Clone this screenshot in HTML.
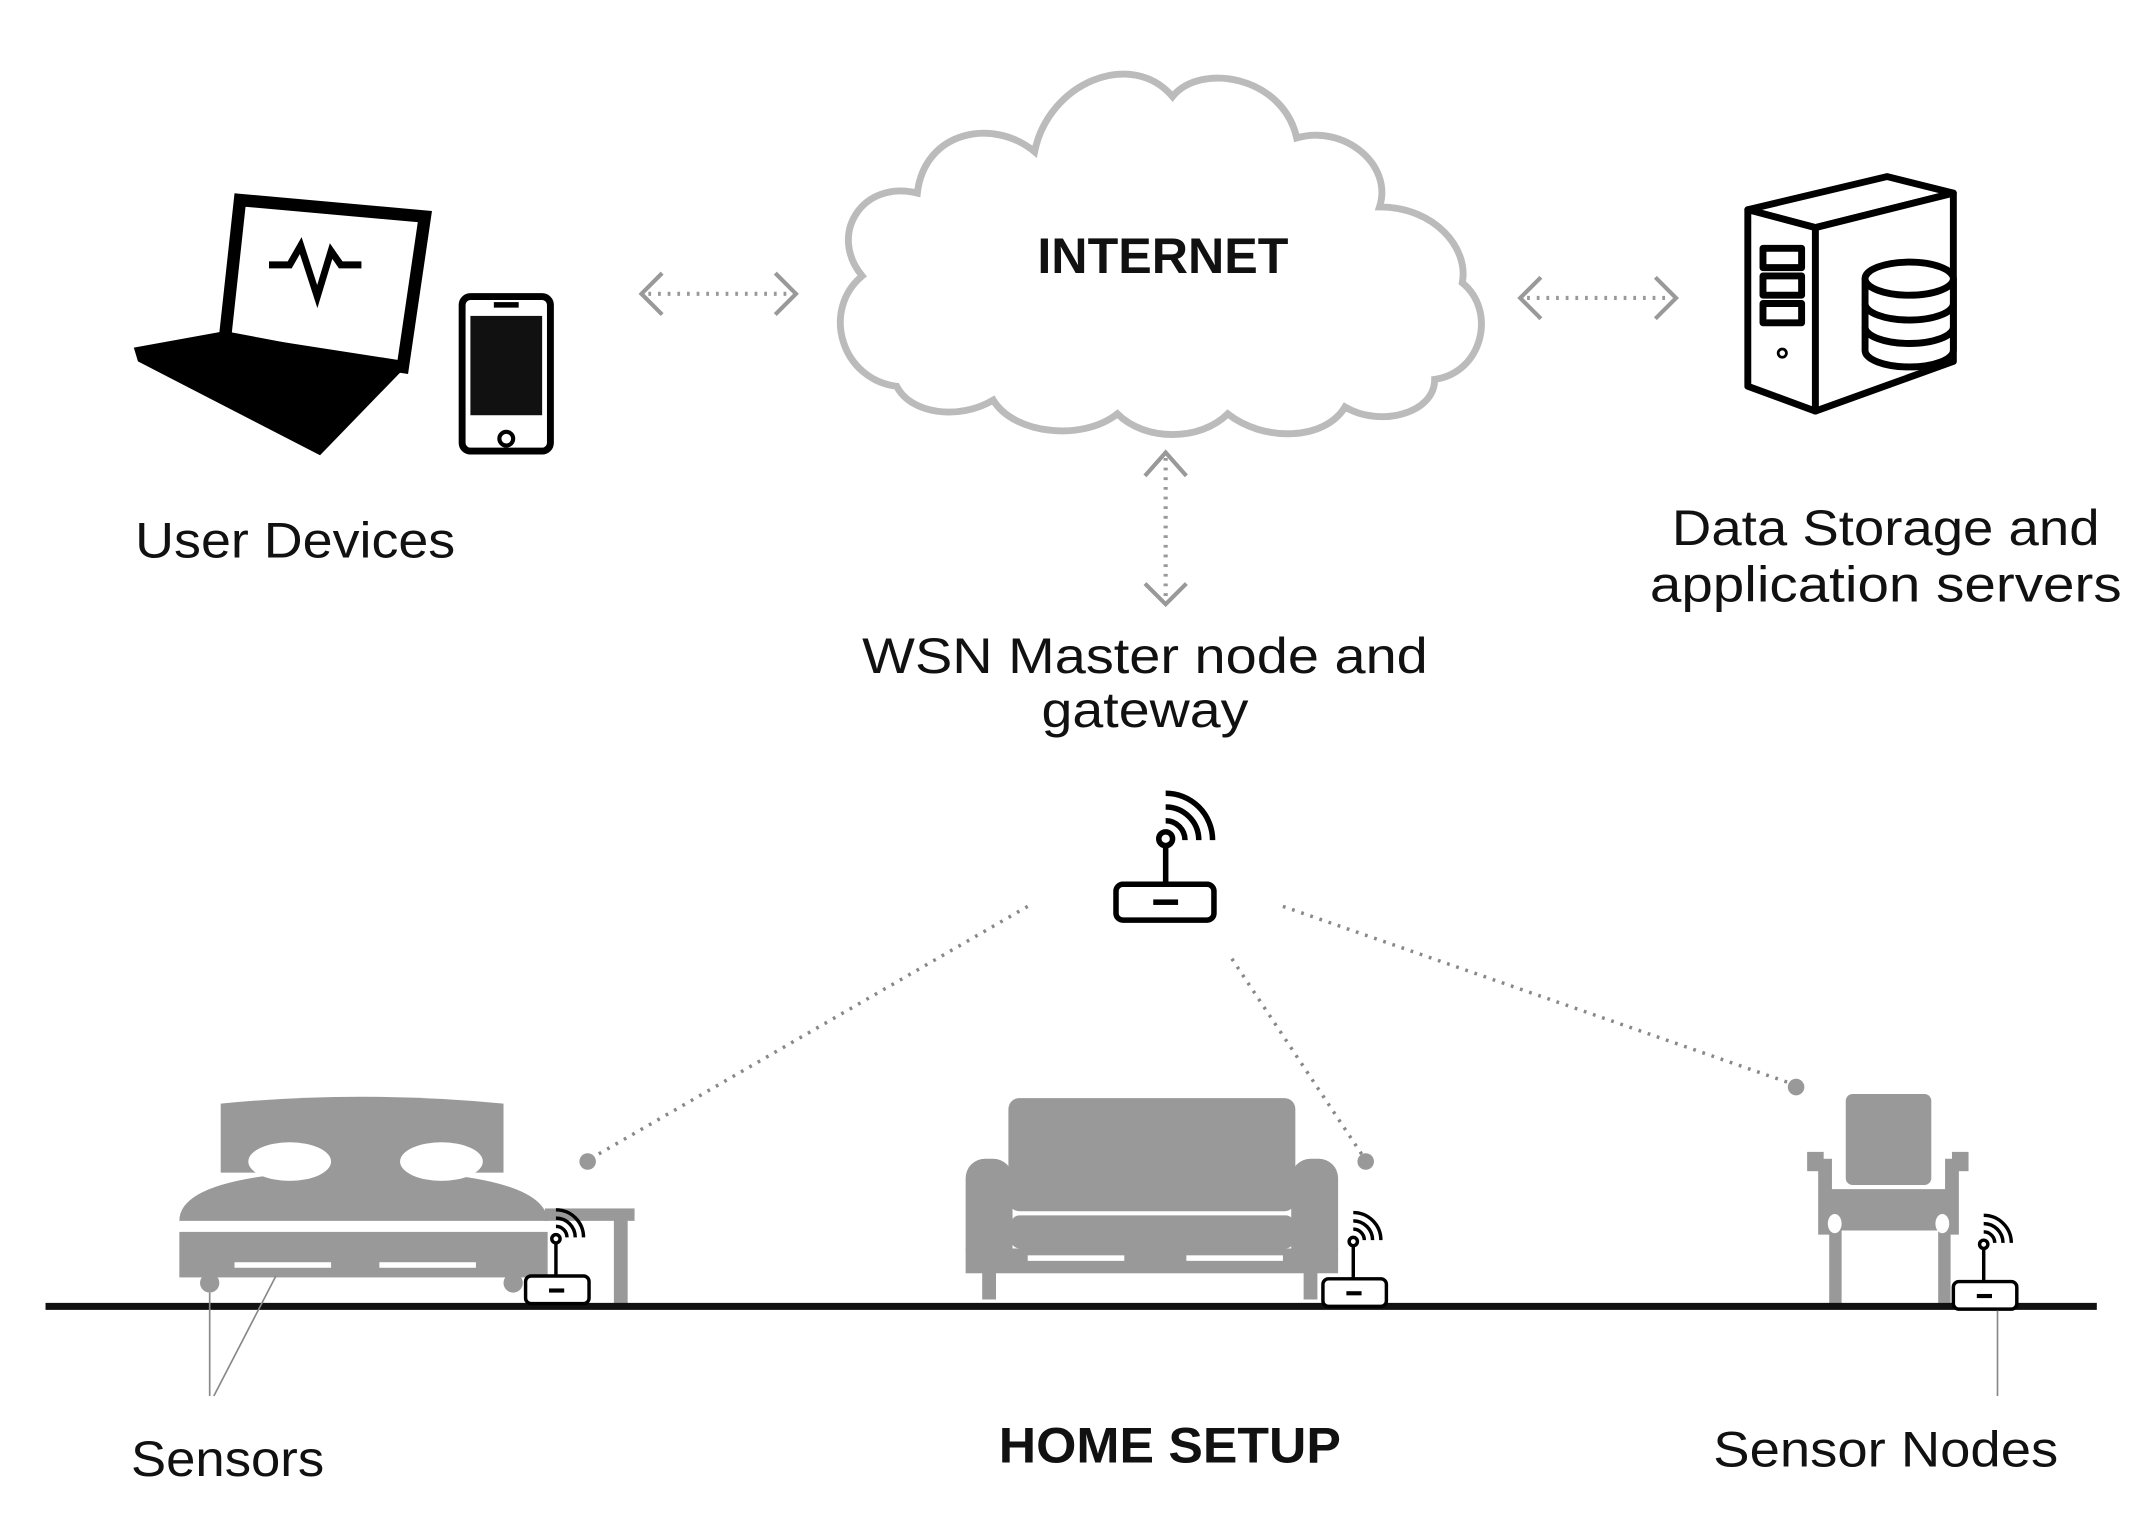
<!DOCTYPE html>
<html><head><meta charset="utf-8"><style>html,body{margin:0;padding:0;background:#fff}svg{display:block}</style></head>
<body>
<svg width="2152" height="1514" viewBox="0 0 1560 1097.5" xmlns="http://www.w3.org/2000/svg" font-family="Liberation Sans, sans-serif">
<rect width="1560" height="1097.5" fill="#fff"/>
<!-- cloud -->
<path d="M650,280 C610,275 595,225 625,200 C600,170 625,130 665,140 C670,95 720,85 750,110 C760,60 820,35 850,70 C870,45 930,55 940,100 C975,90 1010,120 1000,150 C1040,150 1065,180 1060,205 C1085,225 1075,270 1040,275 C1040,300 1000,310 975,295 C960,320 915,320 890,300 C870,320 830,320 810,300 C785,320 735,315 720,290 C695,305 660,300 650,280 Z" fill="#fff" stroke="#bbb" stroke-width="5"/>
<text x="843" y="198" font-size="36" font-weight="bold" text-anchor="middle" fill="#111" textLength="182" lengthAdjust="spacingAndGlyphs">INTERNET</text>
<!-- arrows -->
<g stroke="#999" stroke-width="3" fill="none">
<line x1="470" y1="213" x2="572" y2="213" stroke-dasharray="2,5"/>
<polyline points="480,198 465,213 480,228"/><polyline points="562,198 577,213 562,228"/>
<line x1="1107" y1="216" x2="1210" y2="216" stroke-dasharray="2,5"/>
<polyline points="1117,201 1102,216 1117,231"/><polyline points="1200,201 1215,216 1200,231"/>
<line x1="845" y1="332" x2="845" y2="432" stroke-dasharray="2,5"/>
<polyline points="830,345 845,328 860,345"/><polyline points="830,423 845,438 860,423"/>
</g>
<!-- laptop -->
<polygon points="174,145 308,157 292,266 163,246" fill="#fff" stroke="#000" stroke-width="9"/>
<polyline points="195,192 210,192 218,178 230,215 240,182 247,192 262,192" fill="none" stroke="#000" stroke-width="5"/>
<polygon points="97,252 163,240 295,265 232,330 100,262" fill="#000"/>
<!-- phone -->
<rect x="335" y="215" width="64" height="112" rx="6" fill="#fff" stroke="#000" stroke-width="5"/>
<rect x="341" y="229" width="52" height="72" fill="#111"/>
<rect x="358" y="219" width="18" height="4" fill="#000"/>
<circle cx="367" cy="318" r="5" fill="none" stroke="#000" stroke-width="3"/>
<!-- server -->
<g stroke="#000" stroke-width="5" fill="#fff" stroke-linejoin="round">
<polygon points="1267,152 1368,128 1416,140 1316,165"/>
<polygon points="1267,152 1316,165 1316,298 1267,280"/>
<polygon points="1316,165 1416,140 1416,262 1316,298"/>
<rect x="1278" y="180" width="28" height="14"/><rect x="1278" y="200" width="28" height="14"/><rect x="1278" y="220" width="28" height="14"/>
<circle cx="1292" cy="256" r="3" stroke-width="2"/>
<path d="M1352,202 v52 a32,12 0 0 0 64,0 v-52"/>
<ellipse cx="1384" cy="202" rx="32" ry="12"/>
<path d="M1352,220 a32,12 0 0 0 64,0 M1352,237 a32,12 0 0 0 64,0" fill="none"/>
</g>
<!-- labels -->
<g fill="#111" font-size="36">
<text x="98" y="404" textLength="232" lengthAdjust="spacingAndGlyphs">User Devices</text>
<text x="1367" y="395" text-anchor="middle" textLength="310" lengthAdjust="spacingAndGlyphs">Data Storage and</text>
<text x="1367" y="436" text-anchor="middle" textLength="342" lengthAdjust="spacingAndGlyphs">application servers</text>
<text x="830" y="488" text-anchor="middle" textLength="410" lengthAdjust="spacingAndGlyphs">WSN Master node and</text>
<text x="830" y="527" text-anchor="middle" textLength="150" lengthAdjust="spacingAndGlyphs">gateway</text>
<text x="95" y="1070" textLength="140" lengthAdjust="spacingAndGlyphs">Sensors</text>
<text x="848" y="1060" text-anchor="middle" font-weight="bold" textLength="248" lengthAdjust="spacingAndGlyphs">HOME SETUP</text>
<text x="1242" y="1063" textLength="250" lengthAdjust="spacingAndGlyphs">Sensor Nodes</text>
</g>
<!-- master router -->
<g stroke="#000" stroke-width="4" fill="none">
<path d="M845,595 a14,14 0 0 1 14,14 M845,585 a24,24 0 0 1 24,24 M845,575 a34,34 0 0 1 34,34"/>
<circle cx="845" cy="608" r="5" fill="#fff"/>
<line x1="845" y1="613" x2="845" y2="641"/>
<rect x="809" y="641" width="71" height="26" rx="5" fill="#fff"/>
</g>
<rect x="836" y="652" width="18" height="4" fill="#000"/>
<!-- dotted links -->
<g stroke="#888" stroke-width="2.5" stroke-dasharray="2,5" fill="none">
<line x1="745" y1="657" x2="428" y2="840"/>
<line x1="893" y1="695" x2="988" y2="838"/>
<line x1="930" y1="657" x2="1300" y2="786"/>
</g>
<g fill="#999"><circle cx="426" cy="842" r="6"/><circle cx="990" cy="842" r="6"/><circle cx="1302" cy="788" r="6"/></g>
<!-- bed -->
<g fill="#999">
<path d="M160,800 Q262,790 365,800 V850 H160 Z"/>
<path d="M130,885 Q130,850 262,848 Q395,850 397,885 Z"/>
<rect x="130" y="893" width="267" height="33"/>
<circle cx="152" cy="930" r="7"/><circle cx="372" cy="930" r="7"/>
<rect x="395" y="876" width="65" height="9"/><rect x="445" y="880" width="10" height="67"/>
</g>
<g fill="#fff"><ellipse cx="210" cy="842" rx="30" ry="14"/><ellipse cx="320" cy="842" rx="30" ry="14"/>
<rect x="170" y="915" width="70" height="4"/><rect x="275" y="915" width="70" height="4"/></g>
<!-- sofa -->
<g fill="#999">
<rect x="731" y="796" width="208" height="82" rx="8"/>
<rect x="700" y="840" width="34" height="80" rx="14"/><rect x="936" y="840" width="34" height="80" rx="14"/>
<rect x="733" y="881" width="205" height="24" rx="6"/>
<rect x="700" y="905" width="270" height="18"/>
<rect x="712" y="922" width="10" height="20"/><rect x="945" y="922" width="10" height="20"/>
</g>
<g fill="#fff"><rect x="745" y="910" width="70" height="4"/><rect x="860" y="910" width="70" height="4"/></g>
<!-- chair -->
<g fill="#999">
<rect x="1338" y="793" width="62" height="66" rx="5"/>
<rect x="1310" y="835" width="12" height="14"/><rect x="1415" y="835" width="12" height="14"/>
<rect x="1318" y="840" width="10" height="55"/><rect x="1410" y="840" width="10" height="55"/>
<rect x="1320" y="862" width="98" height="30"/>
<rect x="1326" y="890" width="9" height="57"/><rect x="1405" y="890" width="9" height="57"/>
</g>
<g fill="#fff"><ellipse cx="1330" cy="887" rx="5" ry="7"/><ellipse cx="1408" cy="887" rx="5" ry="7"/></g>
<!-- floor -->
<line x1="33" y1="947" x2="1520" y2="947" stroke="#111" stroke-width="5"/>
<!-- small nodes -->
<g id="n" stroke="#000" stroke-width="2.5" fill="none">
<path d="M403,889 a8,8 0 0 1 8,8 M403,883 a14,14 0 0 1 14,14 M403,877 a20,20 0 0 1 20,20"/>
<circle cx="403" cy="898" r="3" fill="#fff"/>
<line x1="403" y1="901" x2="403" y2="925"/>
<rect x="381" y="925" width="46" height="20" rx="4" fill="#fff"/>
</g>
<rect x="398" y="934" width="11" height="3" fill="#000"/>
<use href="#n" x="578" y="2"/><rect x="976" y="936" width="11" height="3" fill="#000"/>
<use href="#n" x="1035" y="4"/><rect x="1433" y="938" width="11" height="3" fill="#000"/>
<!-- pointer lines -->
<g stroke="#888" stroke-width="1.2">
<line x1="152" y1="937" x2="152" y2="1012"/><line x1="200" y1="925" x2="155" y2="1012"/>
<line x1="1448" y1="950" x2="1448" y2="1012"/>
</g>
</svg>
</body></html>
